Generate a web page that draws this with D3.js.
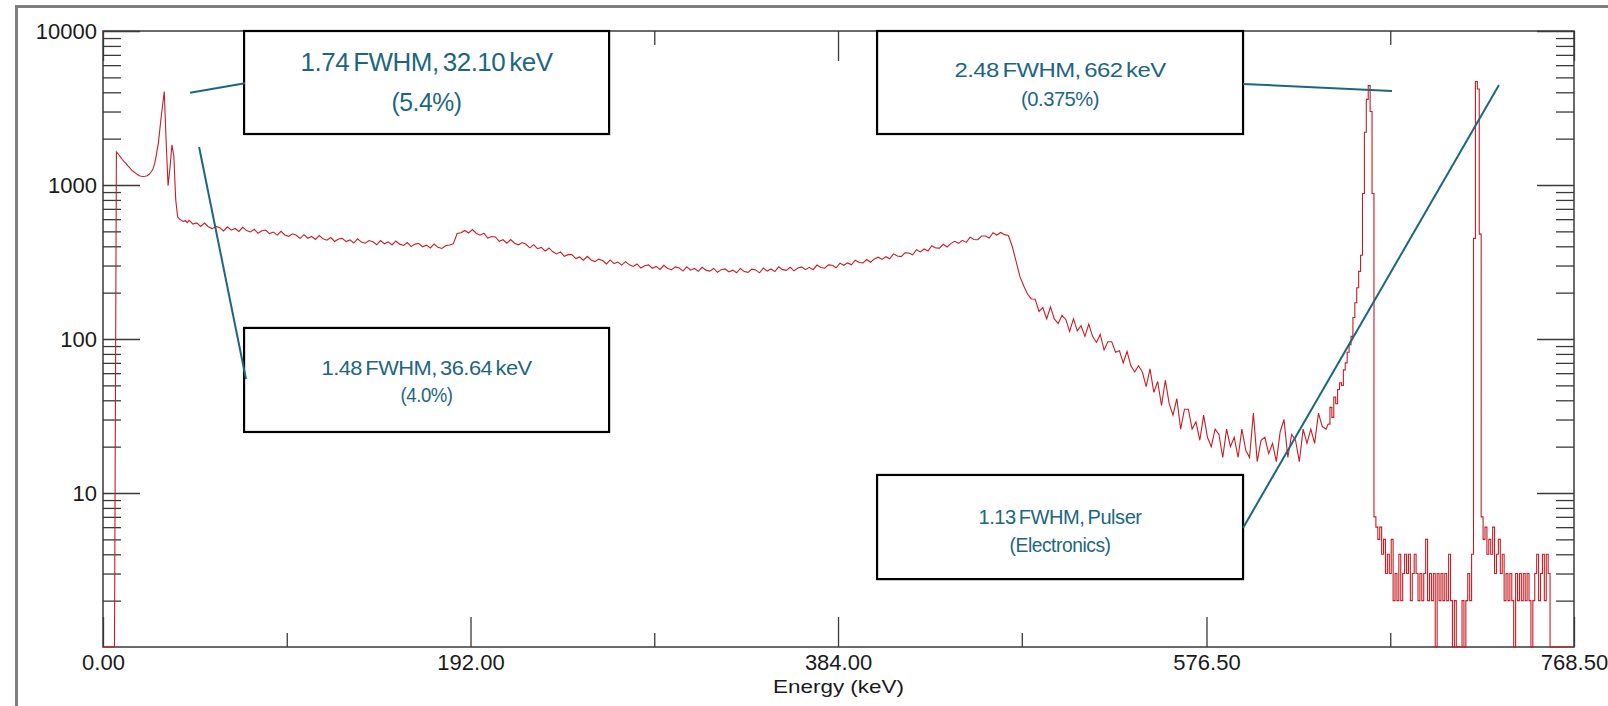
<!DOCTYPE html>
<html>
<head>
<meta charset="utf-8">
<script src="https://cdn.jsdelivr.net/npm/d3@7"></script>
<style>
html, body { margin: 0; padding: 0; background: #fff; }
svg { display: block; font-family: "Liberation Sans", Arial, sans-serif; }
</style>
</head>
<body>
<svg id="chart" width="1608" height="706"></svg>
<script>
//axis ticks
var X_TICKS = [0, 192, 384, 576.5, 768.5];
var X_TICK_LABELS = ["0.00", "192.00", "384.00", "576.50", "768.50"];
var X_MINOR = [96, 288, 480, 672.5];
var Y_TICKS = [10, 100, 1000, 10000];
var Y_TICK_LABELS = ["10", "100", "1000", "10000"];
var X_TITLE = "Energy (keV)";

//spectrum, counts per bin (start energy + bin width in keV)
var XRAY_START = 0, XRAY_STEP = 1;
var xrayCounts = [
    0, 0, 0, 0, 0, 0, 0, 1640, 1590, 1530,
    1470, 1420, 1380, 1330, 1290, 1250, 1220, 1195, 1170, 1150,
    1140, 1135, 1140, 1150, 1170, 1210, 1260, 1380, 1600, 1900,
    2500, 3200, 4050, 1900, 990, 1300, 1820, 1550, 800, 620,
    600, 590, 578, 588, 570
];

var CONT_START = 45, CONT_STEP = 2;
var continuumCounts = [
    590, 557, 567, 538, 566, 536, 521, 538, 527, 503,
    535, 509, 522, 499, 531, 506, 496, 516, 486, 504,
    510, 484, 495, 473, 500, 474, 464, 482, 472, 449,
    476, 451, 463, 443, 470, 447, 438, 456, 430, 446,
    450, 429, 440, 420, 447, 426, 419, 436, 428, 409,
    436, 415, 427, 408, 433, 413, 405, 423, 398, 413,
    417, 397, 407, 390, 414, 394, 387, 403, 408, 415,
    484, 490, 507, 488, 514, 486, 472, 487, 452, 463,
    460, 431, 441, 419, 442, 419, 409, 423, 412, 391,
    410, 386, 393, 372, 390, 368, 357, 368, 344, 353,
    353, 333, 341, 325, 344, 326, 318, 330, 323, 307,
    326, 309, 316, 302, 318, 303, 296, 307, 289, 299,
    303, 288, 296, 283, 301, 287, 282, 294, 289, 276,
    294, 280, 287, 275, 292, 280, 276, 287, 271, 282,
    285, 273, 280, 269, 287, 274, 271, 284, 281, 269,
    289, 276, 285, 274, 294, 282, 279, 292, 277, 289,
    294, 282, 292, 282, 302, 291, 288, 303, 301, 290,
    311, 301, 312, 303, 325, 314, 312, 328, 315, 331,
    340, 329, 342, 332, 357, 346, 343, 363, 362, 352,
    380, 368, 384, 373, 403, 390, 389, 412, 396, 418,
    431, 418, 437, 424, 458, 443, 441, 466, 466, 453,
    490, 473, 492, 476, 470
];

var EDGE_START = 475, EDGE_STEP = 2;
var edgeCounts = [
    400, 320, 255, 222, 196, 182, 181, 151, 160, 135,
    162, 135, 126, 142, 134, 112, 135, 113, 122, 104,
    125, 104, 95, 107, 85, 96, 96, 82, 84, 70,
    83, 67, 61, 67, 61, 49, 64, 45, 53, 37,
    54, 38, 32, 41, 26, 35, 35, 26, 29, 22,
    32, 23, 20, 26, 24, 17, 26, 20, 23, 17,
    26, 19, 17, 33, 16, 22, 23, 18, 21, 16,
    25, 30, 17, 24, 22, 16, 26, 21, 26, 21,
    33, 27, 26
];

var PEAK_START = 640, PEAK_STEP = 1;
var peakCounts = [
    28, 36, 31, 42, 38, 47, 52, 50, 63, 70,
    82, 92, 104, 138, 172, 215, 275, 350, 880, 2200,
    3600, 4420, 3000, 880, 7, 6, 5, 6, 4, 5,
    3, 4, 3, 5, 2, 3, 2, 4, 2, 3,
    4, 3, 4, 2, 3, 4, 3, 2, 3, 2,
    3, 5, 2, 3, 2, 3, 0, 3, 2, 3,
    2, 3, 2, 4, 2, 0, 2, 0, 1, 0,
    2, 0, 2, 3, 2, 4, 450, 4700, 4200, 480,
    7, 5, 6, 4, 5, 4, 6, 3, 4, 5,
    3, 4, 2, 3, 2, 3, 2, 0, 3, 2,
    3, 2, 3, 2, 3, 2, 0, 2, 3, 4,
    2, 3, 4, 2, 4, 3, 0, 0, 0, 0,
    0, 0, 0, 0, 0, 0, 0, 0, 0
];
var END_ENERGY = 768.5;

//annotations, in data units (keV, counts)
var NOTE_LINES = [
    ["1.74 FWHM, 32.10 keV", "(5.4%)"],
    ["1.48 FWHM, 36.64 keV", "(4.0%)"],
    ["2.48 FWHM, 662 keV", "(0.375%)"],
    ["1.13 FWHM, Pulser", "(Electronics)"]
];
var NOTE_ENERGY = [[73.7, 264.4], [73.7, 264.4], [404.4, 595.6], [404.4, 595.6]];
var NOTE_COUNTS = [[10000, 2143], [118, 24.9], [10000, 2143], [13.1, 2.76]];
var LEADER_FROM = [[45.5, 3974], [50.2, 1766], [595.6, 4529], [595.6, 5.93]];
var LEADER_TO = [[74.2, 4571], [74.7, 55], [673.4, 4075], [729.3, 4458]];

//layout
var WIDTH = 1608, HEIGHT = 706;
var MARGIN = {left: 103, top: 31, right: 34, bottom: 59};
var BODY_W = WIDTH - MARGIN.left - MARGIN.right;
var BODY_H = HEIGHT - MARGIN.top - MARGIN.bottom;
var NOTE_FONT = [26, 21, 21, 21];
var NOTE_TEXT_W = [[252, 70], [210, 52], [211, 78], [163, 101]];
var NOTE_BASE = [[40, 80], [47, 74], [46, 75], [49, 77]];
var TEAL = "#1d6680";
var RED = "#c41e24";
var AXIS = "#3a3a3a";

var svg = d3.select("#chart");

var xScale = d3.scaleLinear()
    .domain([0, END_ENERGY])
    .range([0, BODY_W]);
var yScale = d3.scaleLog()
    .domain([1, 10000])
    .range([BODY_H, 0]);

//outer frame
svg.append("rect")
    .attr("x", 16.5).attr("y", 6.5)
    .attr("width", WIDTH + 20).attr("height", HEIGHT - 5)
    .attr("fill", "none")
    .attr("stroke", "#7f7f7f")
    .attr("stroke-width", 3);

var chart = svg.append("g")
    .attr("transform", `translate(${MARGIN.left}, ${MARGIN.top})`);

function styleAxis(g) {
    g.select(".domain").remove();
    g.selectAll("line").attr("stroke", AXIS).attr("stroke-width", 1.3);
    g.selectAll("text")
        .attr("fill", "#1a1a1a")
        .style("font-size", "22px")
        .style("font-family", "'Liberation Sans', Arial, sans-serif");
}

var yMinor = yScale.ticks().filter(d => Y_TICKS.indexOf(d) < 0 && d > 1);

//x axes (bottom + top)
chart.append("g")
    .attr("transform", `translate(0, ${BODY_H})`)
    .call(d3.axisBottom(xScale).tickValues(X_TICKS)
        .tickFormat((d, i) => X_TICK_LABELS[i])
        .tickSizeInner(-30).tickSizeOuter(0).tickPadding(7))
    .call(styleAxis);
chart.append("g")
    .attr("transform", `translate(0, ${BODY_H})`)
    .call(d3.axisBottom(xScale).tickValues(X_MINOR).tickFormat("")
        .tickSizeInner(-14).tickSizeOuter(0))
    .call(styleAxis);
chart.append("g")
    .call(d3.axisTop(xScale).tickValues(X_TICKS).tickFormat("")
        .tickSizeInner(-30).tickSizeOuter(0))
    .call(styleAxis);
chart.append("g")
    .call(d3.axisTop(xScale).tickValues(X_MINOR).tickFormat("")
        .tickSizeInner(-14).tickSizeOuter(0))
    .call(styleAxis);

//y axes (left + right)
chart.append("g")
    .call(d3.axisLeft(yScale).tickValues(Y_TICKS)
        .tickFormat((d, i) => Y_TICK_LABELS[i])
        .tickSizeInner(-37).tickSizeOuter(0).tickPadding(6))
    .call(styleAxis);
chart.append("g")
    .call(d3.axisLeft(yScale).tickValues(yMinor).tickFormat("")
        .tickSizeInner(-18).tickSizeOuter(0))
    .call(styleAxis);
chart.append("g")
    .attr("transform", `translate(${BODY_W}, 0)`)
    .call(d3.axisRight(yScale).tickValues(Y_TICKS).tickFormat("")
        .tickSizeInner(-37).tickSizeOuter(0))
    .call(styleAxis);
chart.append("g")
    .attr("transform", `translate(${BODY_W}, 0)`)
    .call(d3.axisRight(yScale).tickValues(yMinor).tickFormat("")
        .tickSizeInner(-18).tickSizeOuter(0))
    .call(styleAxis);

chart.append("rect")
    .attr("width", BODY_W).attr("height", BODY_H)
    .attr("fill", "none")
    .attr("stroke", AXIS)
    .attr("stroke-width", 1.5);

chart.append("text")
    .text(X_TITLE)
    .attr("x", BODY_W / 2)
    .attr("y", BODY_H + 46)
    .attr("text-anchor", "middle")
    .attr("fill", "#1a1a1a")
    .style("font-size", "19px")
    .attr("textLength", 131)
    .attr("lengthAdjust", "spacingAndGlyphs");

//spectrum: smooth part as a line, peak region as histogram steps
function toPoints(start, step, counts) {
    return counts.map((c, i) => ({e: start + i * step, c: c}));
}
var smoothPts = toPoints(XRAY_START, XRAY_STEP, xrayCounts)
    .concat(toPoints(CONT_START, CONT_STEP, continuumCounts))
    .concat(toPoints(EDGE_START, EDGE_STEP, edgeCounts))
    .concat(toPoints(PEAK_START, PEAK_STEP, peakCounts.slice(0, 1)));
var stepPts = toPoints(PEAK_START, PEAK_STEP, peakCounts)
    .concat([{e: END_ENERGY, c: 0}]);

var spectrumLine = d3.line()
    .x(d => xScale(d.e))
    .y(d => yScale(Math.max(d.c, 1)));

chart.append("path")
    .datum(smoothPts)
    .attr("fill", "none")
    .attr("stroke", RED)
    .attr("stroke-width", 1.1)
    .attr("d", spectrumLine.curve(d3.curveLinear));

chart.append("path")
    .datum(stepPts)
    .attr("fill", "none")
    .attr("stroke", RED)
    .attr("stroke-width", 1.1)
    .attr("d", spectrumLine.curve(d3.curveStepAfter));

//annotation boxes
NOTE_LINES.forEach(function(lines, i) {
    var x0 = xScale(NOTE_ENERGY[i][0]), x1 = xScale(NOTE_ENERGY[i][1]);
    var y0 = yScale(NOTE_COUNTS[i][0]), y1 = yScale(NOTE_COUNTS[i][1]);
    var box = chart.append("g");
    box.append("rect")
        .attr("x", x0).attr("y", y0)
        .attr("width", x1 - x0).attr("height", y1 - y0)
        .attr("fill", "#fff")
        .attr("stroke", "#000")
        .attr("stroke-width", 2.2);
    lines.forEach(function(t, j) {
        box.append("text")
            .text(t)
            .attr("x", (x0 + x1) / 2)
            .attr("y", y0 + NOTE_BASE[i][j])
            .attr("text-anchor", "middle")
            .attr("fill", TEAL)
            .style("font-size", NOTE_FONT[i] + "px")
            .style("letter-spacing", "-0.5px")
            .style("word-spacing", "-0.1em")
            .attr("textLength", NOTE_TEXT_W[i][j])
            .attr("lengthAdjust", "spacingAndGlyphs");
    });
});

//leader lines
LEADER_FROM.forEach(function(p, i) {
    chart.append("line")
        .attr("x1", xScale(p[0])).attr("y1", yScale(p[1]))
        .attr("x2", xScale(LEADER_TO[i][0])).attr("y2", yScale(LEADER_TO[i][1]))
        .attr("stroke", TEAL)
        .attr("stroke-width", 2);
});
</script>
</body>
</html>
